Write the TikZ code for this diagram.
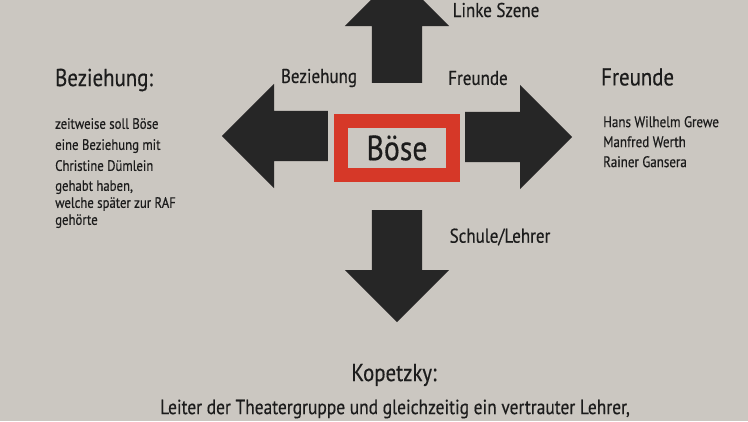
\documentclass[tikz,border=0pt]{standalone}
\usepackage{fontspec}
\setmainfont{PT Sans}[FakeStretch=0.85, FakeBold=0.4]
\usetikzlibrary{shapes.arrows, positioning}

\definecolor{wall}{RGB}{203,199,193}
\definecolor{ink}{RGB}{28,28,28}
\definecolor{arrowgray}{RGB}{38,38,38}
\definecolor{signred}{RGB}{214,56,40}

\begin{document}
\begin{tikzpicture}[
    x=1pt, y=-1pt,
    text=ink,
    % Styles
    bigarrow/.style={
        single arrow,
        fill=arrowgray,
        draw=none,
        inner xsep=0pt,
        inner ysep=25pt,
        single arrow head extend=27pt,
        single arrow tip angle=90,
        anchor=tail
    },
    vertarrow/.style={bigarrow, inner xsep=25pt, inner ysep=0pt},
    namebox/.style={
        draw=signred,
        line width=14pt,
        minimum width=112pt,
        minimum height=54pt,
        inner sep=0pt,
        font=\fontsize{35}{40}\selectfont
    },
    label/.style={font=\fontsize{20}{24}\selectfont},
    heading/.style={font=\fontsize{24.5}{29}\selectfont},
    bodytext/.style={align=left, anchor=north west, inner sep=0pt}
]

    % --- WALL ---
    \fill[wall] (0,0) rectangle (748,421);
    \useasboundingbox (0,0) rectangle (748,421);
    \clip (0,0) rectangle (748,421);

    % --- CENTRE ---
    \node[namebox] (boese) at (397,148) {Böse};

    % --- ARROWS ---
    \node[vertarrow, shape border rotate=90, minimum height=109pt] (up) at (397,83) {};
    \node[vertarrow, shape border rotate=270, minimum height=112pt] (down) at (397,210) {};
    \node[bigarrow, shape border rotate=180, minimum height=106pt] (left) at (328,136) {};
    \node[bigarrow, shape border rotate=0, minimum height=107pt] (right) at (465,137) {};

    % Arrow labels
    \node[label] (szene) at (496,10) {Linke Szene};
    \node[label] (bez) at (319,78) {Beziehung};
    \node[label] (freu) at (478,78) {Freunde};
    \node[label] (schule) at (500,237) {Schule/Lehrer};

    % --- LEFT: BEZIEHUNG ---
    \node[heading, anchor=west, inner sep=0pt] (bezhead) at (55,80) {Beziehung:};
    \node[bodytext, font=\fontsize{15}{17}\selectfont] (bezbody) at (55,118) {
        zeitweise soll Böse\\[4pt]
        eine Beziehung mit\\[4pt]
        Christine Dümlein\\[3pt]
        gehabt haben,\\
        welche später zur RAF\\
        gehörte};

    % --- RIGHT: FREUNDE ---
    \node[heading, anchor=west, inner sep=0pt] (freuhead) at (601,77) {Freunde};
    \node[bodytext, font=\fontsize{15.3}{20}\selectfont] (freubody) at (603,116) {
        Hans Wilhelm Grewe\\
        Manfred Werth\\
        Rainer Gansera};

    % --- BOTTOM: KOPETZKY ---
    \node[heading] (kophead) at (394,375) {Kopetzky:};
    \node[font=\fontsize{20.5}{24}\selectfont] (kopbody) at (395,409)
        {Leiter der Theatergruppe und gleichzeitig ein vertrauter Lehrer,};

\end{tikzpicture}
\end{document}
